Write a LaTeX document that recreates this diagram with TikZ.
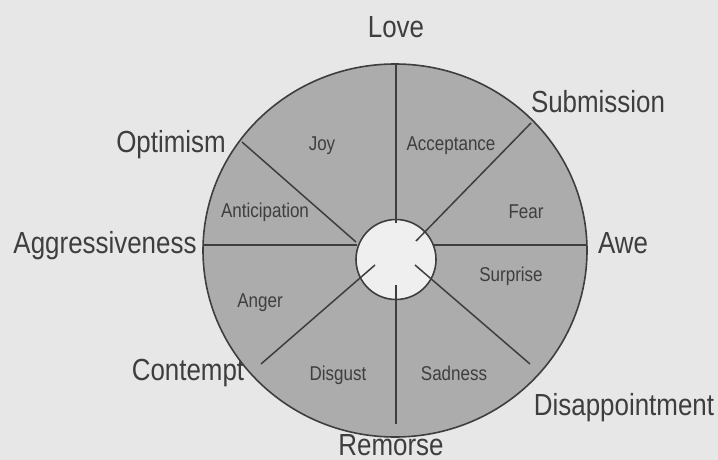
\documentclass[tikz,border=0pt]{standalone}
\usepackage{fontspec}
\setmainfont{Liberation Sans}
\newfontfamily\narrowsans[FakeStretch=0.85]{Liberation Sans}
\usepackage{tikz}

\definecolor{paper}{RGB}{231,231,231}
\definecolor{wheelgray}{RGB}{172,172,172}
\definecolor{hubwhite}{RGB}{239,239,239}
\definecolor{ink}{RGB}{62,62,62}

\begin{document}
\begin{tikzpicture}[x=1pt, y=-1pt,
    wheel/.style={draw=ink, line width=1.6pt, fill=wheelgray},
    hub/.style={draw=ink, line width=1.6pt, fill=hubwhite},
    spoke/.style={draw=ink, line width=1.5pt},
    emotion/.style={anchor=base, inner sep=0pt, text=ink, font=\narrowsans\fontsize{20}{20}\selectfont},
    dyad/.style={anchor=base, inner sep=0pt, text=ink, font=\narrowsans\fontsize{30.5}{30}\selectfont}]
    % Fondo
    \fill[paper] (0,0) rectangle (718,460);
    \useasboundingbox (0,0) rectangle (718,460);

    % Rueda y centro
    \coordinate (C) at (395,250.5);
    \coordinate (H) at (396,259.5);
    \draw[wheel] (C) ellipse [x radius=192, y radius=186.5];
    \draw[hub] (H) circle [radius=40];

    % Extremos de los radios
    \coordinate (Nout) at (396,64);    \coordinate (Nin) at (396,223);
    \coordinate (Sout) at (396,424);   \coordinate (Sin) at (396,285);
    \coordinate (Wout) at (204,245);   \coordinate (Win) at (357,245);
    \coordinate (Eout) at (587,245);   \coordinate (Ein) at (433,245);
    \coordinate (NWout) at (242,142);  \coordinate (NWin) at (356,242);
    \coordinate (NEout) at (531,123);  \coordinate (NEin) at (416,241);
    \coordinate (SWout) at (261,364);  \coordinate (SWin) at (375,265);
    \coordinate (SEout) at (530,364);  \coordinate (SEin) at (415,265);

    % Radios
    \draw[spoke] (Nout) -- (Nin);
    \draw[spoke] (Sin) -- (Sout);
    \draw[spoke] (Wout) -- (Win);
    \draw[spoke] (Ein) -- (Eout);
    \draw[spoke] (NWout) -- (NWin);
    \draw[spoke] (NEout) -- (NEin);
    \draw[spoke] (SWin) -- (SWout);
    \draw[spoke] (SEin) -- (SEout);

    % Emociones primarias
    \node[emotion] (joy) at (322,150) {Joy};
    \node[emotion] (acceptance) at (451,150) {Acceptance};
    \node[emotion] (anticipation) at (265,217) {Anticipation};
    \node[emotion] (fear) at (526,218) {Fear};
    \node[emotion] (surprise) at (511,281) {Surprise};
    \node[emotion] (anger) at (260,307) {Anger};
    \node[emotion] (disgust) at (338,380) {Disgust};
    \node[emotion] (sadness) at (454,380) {Sadness};

    % Diadas
    \node[dyad] (love) at (396,38) {Love};
    \node[dyad] (submission) at (598,113) {Submission};
    \node[dyad] (optimism) at (171,152) {Optimism};
    \node[dyad] (aggressiveness) at (105,253) {Aggressiveness};
    \node[dyad] (awe) at (623,253) {Awe};
    \node[dyad] (contempt) at (188,380) {Contempt};
    \node[dyad] (disappointment) at (624,415) {Disappointment};
    \node[dyad] (remorse) at (391,455) {Remorse};
\end{tikzpicture}
\end{document}
